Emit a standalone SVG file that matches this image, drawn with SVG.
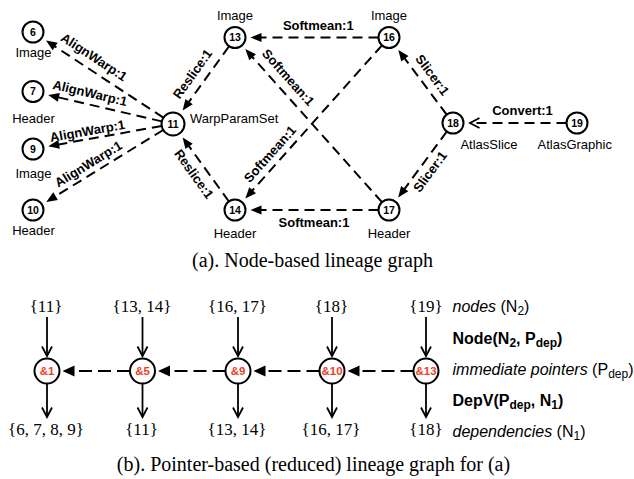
<svg xmlns="http://www.w3.org/2000/svg" width="634" height="479" viewBox="0 0 634 479">
<style>
.n circle{fill:#fff;stroke:#000;stroke-width:2}
.num{font-family:"Liberation Sans",Arial,sans-serif;font-weight:bold;font-size:10.5px;text-anchor:middle}
.lbl{font-family:"Liberation Sans",Arial,sans-serif;font-size:13px;text-anchor:middle}
.el{font-family:"Liberation Sans",Arial,sans-serif;font-size:13px;font-weight:bold;text-anchor:middle}
.ed{fill:none;stroke:#000;stroke-width:2;stroke-dasharray:10 6;marker-end:url(#ah)}
.set{font-family:"Liberation Serif","Times New Roman",serif;font-size:17px;text-anchor:middle}
.cap{font-family:"Liberation Serif","Times New Roman",serif;font-size:20px;text-anchor:middle}
.p circle{fill:#fff;stroke:#000;stroke-width:2}
.p text{font-family:"Liberation Sans",Arial,sans-serif;font-weight:bold;font-size:11.5px;fill:#f0401f;text-anchor:middle}
.sl{stroke:#000;stroke-width:1.8;fill:none;marker-end:url(#open)}
.pd{stroke:#000;stroke-width:2;fill:none;stroke-dasharray:13 6;marker-end:url(#ahb)}
.side{font-family:"Liberation Sans",Arial,sans-serif;font-size:16px}
</style>
<defs>
<marker id="ah" markerUnits="userSpaceOnUse" markerWidth="11" markerHeight="9" refX="2" refY="4.5" orient="auto" overflow="visible"><path d="M0,0 L11,4.5 L0,9 z" fill="#000"/></marker>
<marker id="ahb" markerUnits="userSpaceOnUse" markerWidth="12" markerHeight="11" refX="1" refY="5.5" orient="auto" overflow="visible"><path d="M0,0 L12,5.5 L0,11 z" fill="#000"/></marker>
<marker id="open" markerUnits="userSpaceOnUse" markerWidth="12" markerHeight="12" refX="10" refY="6" orient="auto" overflow="visible"><path d="M0.5,1 L10,6 L0.5,11" fill="none" stroke="#000" stroke-width="1.8"/></marker>
</defs>

<g id="connectors">
<path class="ed" d="M163.4,117.7 L53.5,45.5"/>
<path class="ed" d="M161.8,121.4 L56.9,97"/>
<path class="ed" d="M161.7,126 L57.1,144.7"/>
<path class="ed" d="M163.2,130 L53.9,197.2"/>
<path class="ed" d="M228.9,46.5 L187.9,103.3"/>
<path class="ed" d="M228.9,201.5 L187.9,144.7"/>
<path class="ed" d="M378.5,37.5 L259.5,37.5"/>
<path class="ed" d="M378.5,210 L259.5,210"/>
<path class="ed" d="M382,202.2 L251.3,55.8"/>
<path class="ed" d="M382,45.3 L251.3,191.7"/>
<path class="ed" d="M446.7,114.6 L403.7,57.1"/>
<path class="ed" d="M446.8,131.5 L403.5,190.3"/>
<path class="ed" style="marker-end:url(#open)" d="M566.5,123 L470,123"/>

<text class="el" transform="translate(94,57) rotate(33.3)" y="4.5">AlignWarp:1</text>
<text class="el" transform="translate(90,93) rotate(13.3)" y="4.5">AlignWarp:1</text>
<text class="el" transform="translate(87.5,131) rotate(-10.1)" y="4.5">AlignWarp:1</text>
<text class="el" transform="translate(88.3,164) rotate(-31.6)" y="4.5">AlignWarp:1</text>
<text class="el" transform="translate(192.5,74) rotate(-54.2)" y="4.5">Reslice:1</text>
<text class="el" transform="translate(194,174) rotate(54.2)" y="4.5">Reslice:1</text>
<text class="el" x="318.3" y="29.5">Softmean:1</text>
<text class="el" x="314" y="226.5">Softmean:1</text>
<text class="el" transform="translate(288.3,77.5) rotate(48.2)" y="4.5">Softmean:1</text>
<text class="el" transform="translate(270,154) rotate(-48.3)" y="4.5">Softmean:1</text>
<text class="el" transform="translate(432.5,75) rotate(53.3)" y="4.5">Slicer:1</text>
<text class="el" transform="translate(430,171.7) rotate(-53.6)" y="4.5">Slicer:1</text>
<text class="el" x="522.5" y="115">Convert:1</text>

<path class="sl" d="M47,317 V356"/><path class="sl" d="M47,383.5 V417"/>
<path class="sl" d="M142.5,317 V356"/><path class="sl" d="M142.5,383.5 V417"/>
<path class="sl" d="M238,317 V356"/><path class="sl" d="M238,383.5 V417"/>
<path class="sl" d="M332,317 V356"/><path class="sl" d="M332,383.5 V417"/>
<path class="sl" d="M426,317 V356"/><path class="sl" d="M426,383.5 V417"/>
<path class="pd" d="M130,371 H73.5"/>
<path class="pd" d="M225.5,371 H169"/>
<path class="pd" d="M319.5,371 H264.5"/>
<path class="pd" d="M413.5,371 H358.5"/>
</g>

<g id="n6" class="n"><circle cx="33" cy="32" r="10.5"/><text class="num" x="33" y="35.7">6</text><text class="lbl" x="33.5" y="57">Image</text></g>
<g id="n7" class="n"><circle cx="33" cy="91.5" r="10.5"/><text class="num" x="33" y="95.2">7</text><text class="lbl" x="33.5" y="122.5">Header</text></g>
<g id="n9" class="n"><circle cx="33" cy="149" r="10.5"/><text class="num" x="33" y="152.7">9</text><text class="lbl" x="33.5" y="177.5">Image</text></g>
<g id="n10" class="n"><circle cx="33" cy="210" r="10.5"/><text class="num" x="33" y="213.7">10</text><text class="lbl" x="33.5" y="235">Header</text></g>
<g id="n11" class="n"><circle cx="173" cy="124" r="11.5"/><text class="num" x="173" y="127.7">11</text><text class="lbl" x="190" y="122.5" style="text-anchor:start">WarpParamSet</text></g>
<g id="n13" class="n"><circle cx="235" cy="37.5" r="10.5"/><text class="num" x="235" y="41.2">13</text><text class="lbl" x="235" y="19.5">Image</text></g>
<g id="n14" class="n"><circle cx="235" cy="210" r="10.5"/><text class="num" x="235" y="213.7">14</text><text class="lbl" x="235" y="237.5">Header</text></g>
<g id="n16" class="n"><circle cx="389" cy="37.5" r="10.5"/><text class="num" x="389" y="41.2">16</text><text class="lbl" x="389" y="19.5">Image</text></g>
<g id="n17" class="n"><circle cx="389" cy="210" r="10.5"/><text class="num" x="389" y="213.7">17</text><text class="lbl" x="389" y="237.5">Header</text></g>
<g id="n18" class="n"><circle cx="453" cy="123" r="10.5"/><text class="num" x="453" y="126.7">18</text><text class="lbl" x="489" y="149">AtlasSlice</text></g>
<g id="n19" class="n"><circle cx="577" cy="123" r="10.5"/><text class="num" x="577" y="126.7">19</text><text class="lbl" x="574.7" y="149">AtlasGraphic</text></g>

<text class="cap" x="312.5" y="267">(a). Node-based lineage graph</text>

<g id="p1" class="p"><circle cx="47" cy="371" r="12.5"/><text x="47" y="375">&amp;1</text></g>
<g id="p5" class="p"><circle cx="142.5" cy="371" r="12.5"/><text x="142.5" y="375">&amp;5</text></g>
<g id="p9" class="p"><circle cx="238" cy="371" r="12.5"/><text x="238" y="375">&amp;9</text></g>
<g id="p10" class="p"><circle cx="332" cy="371" r="12.5"/><text x="332" y="375">&amp;10</text></g>
<g id="p13" class="p"><circle cx="426" cy="371" r="12.5"/><text x="426" y="375">&amp;13</text></g>

<g id="sets">
<text class="set" x="46" y="312">{11}</text>
<text class="set" x="142" y="312">{13, 14}</text>
<text class="set" x="237.5" y="312">{16, 17}</text>
<text class="set" x="331.5" y="312">{18}</text>
<text class="set" x="426" y="312">{19}</text>
<text class="set" x="46" y="435">{6, 7, 8, 9}</text>
<text class="set" x="141.5" y="435">{11}</text>
<text class="set" x="237" y="435">{13, 14}</text>
<text class="set" x="331" y="435">{16, 17}</text>
<text class="set" x="426" y="435">{18}</text>
</g>

<g id="legend" class="side">
<text x="452.5" y="312"><tspan font-style="italic">nodes</tspan> (N<tspan font-size="12" dy="3">2</tspan><tspan dy="-3">)</tspan></text>
<text x="452.5" y="344" font-weight="bold">Node(N<tspan font-size="12" dy="3">2</tspan><tspan dy="-3">, P</tspan><tspan font-size="12" dy="3">dep</tspan><tspan dy="-3">)</tspan></text>
<text x="452.5" y="375"><tspan font-style="italic">immediate pointers</tspan> (P<tspan font-size="12" dy="3">dep</tspan><tspan dy="-3">)</tspan></text>
<text x="452.5" y="405.5" font-weight="bold">DepV(P<tspan font-size="12" dy="3">dep</tspan><tspan dy="-3">, N</tspan><tspan font-size="12" dy="3">1</tspan><tspan dy="-3">)</tspan></text>
<text x="452.5" y="436.5"><tspan font-style="italic">dependencies</tspan> (N<tspan font-size="12" dy="3">1</tspan><tspan dy="-3">)</tspan></text>
</g>

<text class="cap" x="313.5" y="471">(b). Pointer-based (reduced) lineage graph for (a)</text>
</svg>
